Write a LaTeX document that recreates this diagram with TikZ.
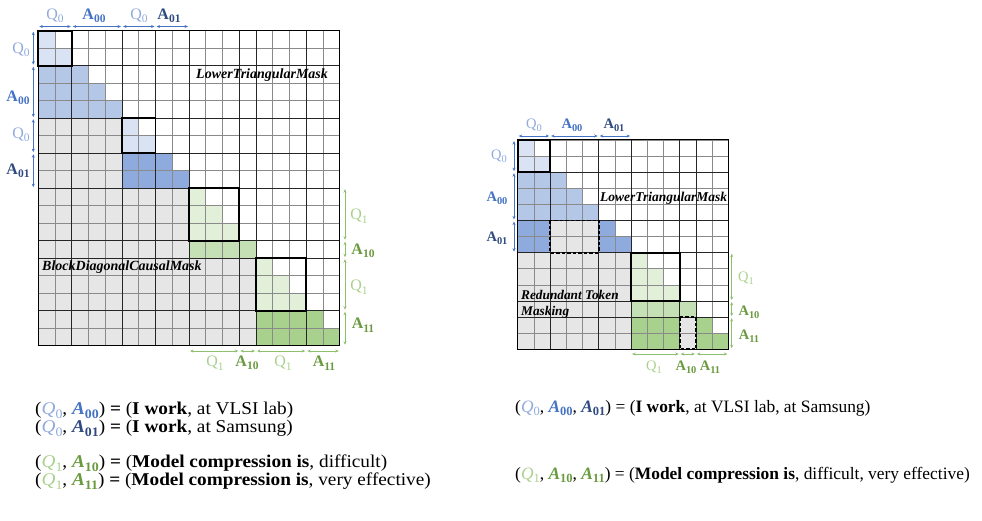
\documentclass[tikz,border=0pt]{standalone}
\usepackage{fontspec}
\setmainfont{Liberation Serif}
\usetikzlibrary{arrows.meta}
\definecolor{qzfill}{HTML}{DAE3F3}
\definecolor{azzfill}{HTML}{B4C7E7}
\definecolor{azofill}{HTML}{8FAADC}
\definecolor{grayfill}{HTML}{E6E6E6}
\definecolor{qofill}{HTML}{E2F0D9}
\definecolor{aozfill}{HTML}{C5E0B4}
\definecolor{aoofill}{HTML}{A9D18E}
\definecolor{qzlab}{HTML}{8FAADC}
\definecolor{azzlab}{HTML}{4472C4}
\definecolor{azolab}{HTML}{2F4A80}
\definecolor{qolab}{HTML}{A9D18E}
\definecolor{aolab}{HTML}{6A9A3F}
\definecolor{bluearr}{HTML}{4472C4}
\definecolor{greenarr}{HTML}{8DBF6C}
\definecolor{gridgray}{HTML}{8A8A8A}
% grid helpers
\newcommand\gsetup[4]{\def\gx{#1}\def\gy{#2}\def\gcw{#3}\def\gch{#4}}
\newcommand\frow[4]{\fill[#1] ({\gx+\gcw*(#3)},{\gy+\gch*(#2)}) rectangle ({\gx+\gcw*(#4+1)},{\gy+\gch*(#2+1)});}
\newcommand\gbox[5]{\draw[#1] ({\gx+\gcw*(#3)},{\gy+\gch*(#2)}) rectangle ({\gx+\gcw*(#5+1)},{\gy+\gch*(#4+1)});}
\newcommand\hcarr[5]{\coordinate (#1a) at ({\gx+\gcw*(#2)+1},#4);\coordinate (#1b) at ({\gx+\gcw*(#3+1)-1},#4);\draw[dimarr,#5] (#1a) -- (#1b);}
\newcommand\vcarr[5]{\coordinate (#1a) at (#4,{\gy+\gch*(#2)+1});\coordinate (#1b) at (#4,{\gy+\gch*(#3+1)-1});\draw[dimarr,#5] (#1a) -- (#1b);}
% subscript scaled relative to current size
\newcommand\sbs[1]{\raisebox{-0.22em}{\scalebox{0.72}{#1}}}
\newcommand\wide[1]{\scalebox{1.07}[1]{#1}}
% label macros
\newcommand\gQz{{\color{qzlab}Q\sbs{0}}}
\newcommand\gAzz{{\color{azzlab}\textbf{A\sbs{00}}}}
\newcommand\gAzo{{\color{azolab}\textbf{A\sbs{01}}}}
\newcommand\gQo{{\color{qolab}Q\sbs{1}}}
\newcommand\gAoz{{\color{aolab}\textbf{A\sbs{10}}}}
\newcommand\gAoo{{\color{aolab}\textbf{A\sbs{11}}}}
\newcommand\mQz{{\color{qzlab}\textit{Q}\sbs{0}}}
\newcommand\mAzz{{\color{azzlab}\textbf{\textit{A}\sbs{00}}}}
\newcommand\mAzo{{\color{azolab}\textbf{\textit{A}\sbs{01}}}}
\newcommand\mQo{{\color{qolab}\textit{Q}\sbs{1}}}
\newcommand\mAoz{{\color{aolab}\textbf{\textit{A}\sbs{10}}}}
\newcommand\mAoo{{\color{aolab}\textbf{\textit{A}\sbs{11}}}}
\begin{document}
\begin{tikzpicture}[x=1pt,y=-1pt,
  dimarr/.style={<->,>={Stealth[length=3.5pt,width=3pt]},line width=0.6pt},
  gridthin/.style={draw=gridgray,line width=0.7pt},
  gridblk/.style={draw=black!85,line width=0.7pt},
  thickbox/.style={draw=black,line width=1.7pt},
  dashbox/.style={draw=black,line width=1.7pt,dash pattern=on 3.5pt off 2pt},
  biglab/.style={inner sep=0pt,font=\fontsize{16}{18}\selectfont},
  smalllab/.style={inner sep=0pt,font=\fontsize{14.5}{16}\selectfont},
  masktxt/.style={inner sep=0pt,anchor=west,font=\fontsize{14}{16}\selectfont\bfseries\itshape},
  masktxtb/.style={inner sep=0pt,anchor=west,align=left,font=\fontsize{13.3}{16}\selectfont\bfseries\itshape},
  eqtxt/.style={inner sep=0pt,anchor=west,font=\fontsize{18}{19}\selectfont},
  eqtxtr/.style={inner sep=0pt,anchor=west,font=\fontsize{17.4}{19}\selectfont}]
\useasboundingbox (0,0) rectangle (982,521);
%================ LEFT GRID =================
\gsetup{38.3}{30.7}{16.75}{17.5}
\frow{qzfill}{0}{0}{0}\frow{qzfill}{1}{0}{1}
\frow{azzfill}{2}{0}{2}\frow{azzfill}{3}{0}{3}\frow{azzfill}{4}{0}{4}
\frow{grayfill}{5}{0}{4}\frow{grayfill}{6}{0}{4}\frow{grayfill}{7}{0}{4}\frow{grayfill}{8}{0}{4}
\frow{qzfill}{5}{5}{5}\frow{qzfill}{6}{5}{6}
\frow{azofill}{7}{5}{7}\frow{azofill}{8}{5}{8}
\foreach \r in {9,...,12} {\frow{grayfill}{\r}{0}{8}}
\foreach \r in {13,...,17} {\frow{grayfill}{\r}{0}{12}}
\frow{qofill}{9}{9}{9}\frow{qofill}{10}{9}{10}\frow{qofill}{11}{9}{11}
\frow{aozfill}{12}{9}{12}
\frow{qofill}{13}{13}{13}\frow{qofill}{14}{13}{14}\frow{qofill}{15}{13}{15}
\frow{aoofill}{16}{13}{16}\frow{aoofill}{17}{13}{17}
\foreach \i in {0,...,18} {
  \draw[gridthin] ({\gx+\gcw*\i},\gy) -- ({\gx+\gcw*\i},{\gy+\gch*18});
  \draw[gridthin] (\gx,{\gy+\gch*\i}) -- ({\gx+\gcw*18},{\gy+\gch*\i});}
\foreach \i in {2,5,7,9,12,13,16} {
  \draw[gridblk] ({\gx+\gcw*\i},\gy) -- ({\gx+\gcw*\i},{\gy+\gch*18});
  \draw[gridblk] (\gx,{\gy+\gch*\i}) -- ({\gx+\gcw*18},{\gy+\gch*\i});}
\gbox{draw=black,line width=1pt}{0}{0}{17}{17}
\gbox{thickbox}{0}{0}{1}{1}
\gbox{thickbox}{5}{5}{6}{6}
\gbox{thickbox}{9}{9}{11}{11}
\gbox{thickbox}{13}{13}{15}{15}
\node[masktxt] (Lltm) at (196,75) {LowerTriangularMask};
\node[masktxt] (Lbdm) at (42,267.5) {BlockDiagonalCausalMask};
% top labels
\hcarr{Lt1}{0}{1}{26.5}{bluearr}\hcarr{Lt2}{2}{4}{26.5}{bluearr}
\hcarr{Lt3}{5}{6}{26.5}{bluearr}\hcarr{Lt4}{7}{8}{26.5}{bluearr}
\node[biglab] (LtQa) at (55,16) {\gQz};
\node[biglab] (LtA0) at (94,16) {\gAzz};
\node[biglab] (LtQb) at (139,16) {\gQz};
\node[biglab] (LtA1) at (169,16) {\gAzo};
% left labels
\vcarr{Ll1}{0}{1}{33.3}{bluearr}\vcarr{Ll2}{2}{4}{33.3}{bluearr}
\vcarr{Ll3}{5}{6}{33.3}{bluearr}\vcarr{Ll4}{7}{8}{33.3}{bluearr}
\node[biglab] (LlQa) at (21,50) {\gQz};
\node[biglab] (LlA0) at (18,98) {\gAzz};
\node[biglab] (LlQb) at (21,135) {\gQz};
\node[biglab] (LlA1) at (18,171) {\gAzo};
% right labels
\vcarr{Lr1}{9}{11}{345}{greenarr}\vcarr{Lr2}{12}{12}{345}{greenarr}
\vcarr{Lr3}{13}{15}{345}{greenarr}\vcarr{Lr4}{16}{17}{345}{greenarr}
\node[biglab] (LrQa) at (359,216) {\gQo};
\node[biglab] (LrA0) at (363,251) {\gAoz};
\node[biglab] (LrQb) at (359,287) {\gQo};
\node[biglab] (LrA1) at (363,325) {\gAoo};
% bottom labels
\hcarr{Lb1}{9}{11}{351}{greenarr}\hcarr{Lb2}{12}{12}{351}{greenarr}
\hcarr{Lb3}{13}{15}{351}{greenarr}\hcarr{Lb4}{16}{17}{351}{greenarr}
\node[biglab] (LbQa) at (215,363) {\gQo};
\node[biglab] (LbA0) at (247,363) {\gAoz};
\node[biglab] (LbQb) at (283,363) {\gQo};
\node[biglab] (LbA1) at (324,363) {\gAoo};
%================ RIGHT GRID =================
\gsetup{517.7}{140}{16.2}{16.1}
\frow{qzfill}{0}{0}{0}\frow{qzfill}{1}{0}{1}
\frow{azzfill}{2}{0}{2}\frow{azzfill}{3}{0}{3}\frow{azzfill}{4}{0}{4}
\frow{azofill}{5}{0}{1}\frow{grayfill}{5}{2}{4}\frow{azofill}{5}{5}{5}
\frow{azofill}{6}{0}{1}\frow{grayfill}{6}{2}{4}\frow{azofill}{6}{5}{6}
\foreach \r in {7,...,12} {\frow{grayfill}{\r}{0}{6}}
\frow{qofill}{7}{7}{7}\frow{qofill}{8}{7}{8}\frow{qofill}{9}{7}{9}
\frow{aozfill}{10}{7}{10}
\frow{aoofill}{11}{7}{9}\frow{grayfill}{11}{10}{10}\frow{aoofill}{11}{11}{11}
\frow{aoofill}{12}{7}{9}\frow{grayfill}{12}{10}{10}\frow{aoofill}{12}{11}{12}
\foreach \i in {0,...,13} {
  \draw[gridthin] ({\gx+\gcw*\i},\gy) -- ({\gx+\gcw*\i},{\gy+\gch*13});
  \draw[gridthin] (\gx,{\gy+\gch*\i}) -- ({\gx+\gcw*13},{\gy+\gch*\i});}
\foreach \i in {2,5,7,10,11} {
  \draw[gridblk] ({\gx+\gcw*\i},\gy) -- ({\gx+\gcw*\i},{\gy+\gch*13});
  \draw[gridblk] (\gx,{\gy+\gch*\i}) -- ({\gx+\gcw*13},{\gy+\gch*\i});}
\gbox{draw=black,line width=1pt}{0}{0}{12}{12}
\gbox{thickbox}{0}{0}{1}{1}
\gbox{thickbox}{7}{7}{9}{9}
\gbox{dashbox}{5}{2}{6}{4}
\gbox{dashbox}{11}{10}{12}{10}
\node[masktxt,font=\fontsize{13.5}{15}\selectfont\bfseries\itshape] (Rltm) at (600,198) {LowerTriangularMask};
\node[masktxtb] (Rrtm) at (521,304) {Redundant Token\\Masking};
% top labels
\hcarr{Rt1}{0}{1}{136}{bluearr}\hcarr{Rt2}{2}{4}{136}{bluearr}\hcarr{Rt3}{5}{6}{136}{bluearr}
\node[smalllab] (RtQ) at (534,125) {\gQz};
\node[smalllab] (RtA0) at (572,125) {\gAzz};
\node[smalllab] (RtA1) at (614,125) {\gAzo};
% left labels
\vcarr{Rl1}{0}{1}{514}{bluearr}\vcarr{Rl2}{2}{4}{514}{bluearr}\vcarr{Rl3}{5}{6}{514}{bluearr}
\node[smalllab] (RlQ) at (499,156) {\gQz};
\node[smalllab] (RlA0) at (497,198) {\gAzz};
\node[smalllab] (RlA1) at (497,238) {\gAzo};
% right labels
\vcarr{Rr1}{7}{9}{731.7}{greenarr}\vcarr{Rr2}{10}{10}{731.7}{greenarr}\vcarr{Rr3}{11}{12}{731.7}{greenarr}
\node[smalllab] (RrQ) at (746,278) {\gQo};
\node[smalllab] (RrA0) at (749,312) {\gAoz};
\node[smalllab] (RrA1) at (749,336) {\gAoo};
% bottom labels
\hcarr{Rb1}{7}{9}{354}{greenarr}\hcarr{Rb2}{10}{10}{354}{greenarr}\hcarr{Rb3}{11}{12}{354}{greenarr}
\node[smalllab] (RbQ) at (654,367) {\gQo};
\node[smalllab] (RbA0) at (686,367) {\gAoz};
\node[smalllab] (RbA1) at (710,367) {\gAoo};
%================ EQUATIONS =================
\node[eqtxt] (e1) at (35,410.5) {\wide{(\mQz, \mAzz) \textbf{=} (\textbf{I work}, at VLSI lab)}};
\node[eqtxt] (e2) at (35,428) {\wide{(\mQz, \mAzo) \textbf{=} (\textbf{I work}, at Samsung)}};
\node[eqtxt] (e3) at (35,463.5) {\wide{(\mQo, \mAoz) \textbf{=} (\textbf{Model compression is}, difficult)}};
\node[eqtxt] (e4) at (35,481) {\wide{(\mQo, \mAoo) \textbf{=} (\textbf{Model compression is}, very effective)}};
\node[eqtxtr] (e5) at (515,408) {(\mQz, \mAzz, \mAzo) = (\textbf{I work}, at VLSI lab, at Samsung)};
\node[eqtxtr] (e6) at (515,475) {(\mQo, \mAoz, \mAoo) = (\textbf{Model compression is}, difficult, very effective)};
\end{tikzpicture}
\end{document}
